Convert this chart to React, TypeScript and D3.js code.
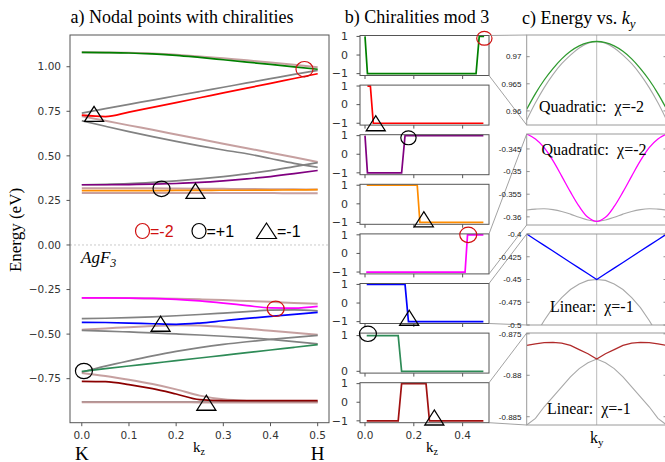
import React from 'react';
import * as d3 from 'd3';

// ---------------- Panel a: bands along K-H ----------------
const kGrid = [0, 0.05, 0.1, 0.15, 0.2, 0.25, 0.3, 0.35, 0.4, 0.45, 0.5];
const yTicksA = [-0.75, -0.5, -0.25, 0, 0.25, 0.5, 0.75, 1.0];
const xTicksA = [0, 0.1, 0.2, 0.3, 0.4, 0.5];

const aGreen = [1.080, 1.079, 1.077, 1.072, 1.064, 1.052, 1.039, 1.026, 1.013, 0.999, 0.986];
const aBrownTop = [1.081, 1.080, 1.078, 1.074, 1.067, 1.058, 1.047, 1.036, 1.024, 1.011, 0.997];
const aGrayUp1 = [0.740, 0.765, 0.789, 0.813, 0.837, 0.861, 0.885, 0.909, 0.933, 0.957, 0.980];
const aRed = [0.728, 0.720, 0.745, 0.772, 0.799, 0.826, 0.853, 0.880, 0.907, 0.934, 0.961];
const aBrownDown1 = [0.722, 0.697, 0.671, 0.646, 0.620, 0.594, 0.568, 0.543, 0.517, 0.492, 0.466];
const aGrayDown1 = [0.697, 0.666, 0.636, 0.608, 0.581, 0.556, 0.533, 0.512, 0.485, 0.458, 0.436];
const aGrayUp2 = [0.338, 0.340, 0.344, 0.351, 0.360, 0.371, 0.384, 0.399, 0.417, 0.440, 0.462];
const aPurple = [0.338, 0.338, 0.339, 0.341, 0.345, 0.351, 0.360, 0.371, 0.384, 0.400, 0.418];
const aOrange = [0.305, 0.305, 0.305, 0.305, 0.306, 0.306, 0.307, 0.307, 0.308, 0.309, 0.310];
const aBrownFlat1 = [0.318, 0.318, 0.318, 0.318, 0.317, 0.316, 0.315, 0.314, 0.313, 0.312, 0.311];
const aBrownFlat2 = [0.292, 0.292, 0.292, 0.292, 0.292, 0.291, 0.291, 0.291, 0.291, 0.290, 0.290];

const aMagenta = [-0.297, -0.297, -0.298, -0.300, -0.305, -0.314, -0.326, -0.340, -0.353, -0.354, -0.344];
const aBrownMag = [-0.297, -0.297, -0.298, -0.300, -0.302, -0.305, -0.309, -0.314, -0.319, -0.325, -0.330];
const aGrayMid1 = [-0.413, -0.411, -0.408, -0.403, -0.397, -0.390, -0.382, -0.374, -0.366, -0.364, -0.370];
const aBlue = [-0.434, -0.435, -0.438, -0.442, -0.445, -0.438, -0.425, -0.412, -0.400, -0.389, -0.378];
const aBrownMid = [-0.475, -0.468, -0.461, -0.455, -0.450, -0.452, -0.460, -0.470, -0.481, -0.492, -0.503];
const aGrayMid2 = [-0.479, -0.483, -0.488, -0.493, -0.499, -0.505, -0.512, -0.520, -0.530, -0.542, -0.555];
const aGrayUp3 = [-0.714, -0.680, -0.650, -0.622, -0.597, -0.576, -0.558, -0.543, -0.530, -0.518, -0.507];
const aSeaGreen = [-0.709, -0.694, -0.679, -0.664, -0.649, -0.634, -0.619, -0.604, -0.589, -0.574, -0.559];
const aBrownDown2 = [-0.718, -0.735, -0.756, -0.780, -0.810, -0.845, -0.866, -0.875, -0.878, -0.879, -0.880];
const aDarkRed = [-0.765, -0.767, -0.783, -0.806, -0.836, -0.868, -0.873, -0.873, -0.873, -0.873, -0.873];
const aGrayFlat = [-0.879, -0.879, -0.879, -0.879, -0.879, -0.879, -0.879, -0.879, -0.879, -0.879, -0.879];
const aBrownFlat3 = [-0.882, -0.882, -0.882, -0.882, -0.882, -0.883, -0.883, -0.883, -0.883, -0.884, -0.884];

// nodal point markers: [k, E, kind]
const aMarkerK = [0.472, 0.026, 0.169, 0.241, 0.411, 0.167, 0.0045, 0.264];
const aMarkerE = [0.986, 0.735, 0.315, 0.303, -0.358, -0.442, -0.707, -0.885];
const aMarkerKind = ['c2', 'tri', 'c1', 'tri', 'c2', 'tri', 'c1', 'tri'];

// ---------------- Panel b: chiralities mod 3 ----------------
const b1K = [0, 0.01, 0.455, 0.468, 0.488];
const b1V = [1, -1, -1, 1, 1];
const b2K = [0.01, 0.022, 0.034, 0.485];
const b2V = [1, 1, -1, -1];
const b3K = [0, 0.01, 0.15, 0.164, 0.485];
const b3V = [1, -1, -1, 1, 1];
const b4K = [0.007, 0.214, 0.225, 0.485];
const b4V = [1, 1, -1, -1];
const b5K = [0.005, 0.41, 0.42, 0.485];
const b5V = [-1, -1, 1, 1];
const b6K = [0.007, 0.164, 0.178, 0.485];
const b6V = [1, 1, -1, -1];
const b7K = [0.007, 0.136, 0.15, 0.485];
const b7V = [1, 1, 0, 0];
const b8K = [0.007, 0.136, 0.15, 0.25, 0.264, 0.485];
const b8V = [-1, -1, 1, 1, -1, -1];
const bXTicks = [0, 0.2, 0.4];
// marker per subplot
const bMarkK = [0.489, 0.044, 0.178, 0.241, 0.423, 0.181, 0.012, 0.284];
const bMarkV = [0.9, -1.0, 0.883, -0.83, 1.0, -0.79, 1.05, -0.82];
const bMarkKind = ['c2', 'tri', 'c1', 'tri', 'c2', 'tri', 'c1', 'tri'];

// ---------------- Panel c: energy vs ky ----------------
const ky = [-1, -0.875, -0.75, -0.625, -0.5, -0.375, -0.25, -0.125, 0, 0.125, 0.25, 0.375, 0.5, 0.625, 0.75, 0.875, 1];
const c1Green = [0.9603, 0.9632, 0.9657, 0.9678, 0.9696, 0.9710, 0.9720, 0.9726, 0.9728, 0.9726, 0.9720, 0.9710, 0.9696, 0.9678, 0.9657, 0.9632, 0.9603];
const c1Gray = [0.9583, 0.9615, 0.9643, 0.9667, 0.9687, 0.9703, 0.9716, 0.9725, 0.9728, 0.9725, 0.9716, 0.9703, 0.9687, 0.9667, 0.9643, 0.9615, 0.9583];
const c2Magenta = [-0.3417, -0.3428, -0.3447, -0.3476, -0.3510, -0.3545, -0.3577, -0.3601, -0.3610, -0.3601, -0.3577, -0.3545, -0.3510, -0.3476, -0.3447, -0.3428, -0.3417];
const c2Gray = [-0.3585, -0.3583, -0.3582, -0.3584, -0.3588, -0.3594, -0.3601, -0.3607, -0.3610, -0.3607, -0.3601, -0.3594, -0.3588, -0.3584, -0.3582, -0.3583, -0.3585];
const c3Blue = [-0.4, -0.40625, -0.4125, -0.41875, -0.425, -0.43125, -0.4375, -0.44375, -0.45, -0.44375, -0.4375, -0.43125, -0.425, -0.41875, -0.4125, -0.40625, -0.4];
const c3Gray = [-0.530, -0.511, -0.495, -0.481, -0.470, -0.461, -0.455, -0.451, -0.450, -0.451, -0.455, -0.461, -0.470, -0.481, -0.495, -0.511, -0.530];
const c4Red = [-0.8764, -0.8762, -0.87607, -0.87603, -0.87612, -0.8764, -0.8769, -0.8774, -0.87805, -0.8774, -0.8769, -0.8764, -0.87612, -0.87603, -0.87607, -0.8762, -0.8764];
const c4Gray = [-0.8860, -0.8852, -0.8838, -0.8826, -0.8814, -0.8802, -0.8792, -0.8785, -0.87805, -0.8785, -0.8792, -0.8802, -0.8814, -0.8826, -0.8838, -0.8852, -0.8860];
const c1Ticks = [0.96, 0.965, 0.97];
const c2Ticks = [-0.345, -0.35, -0.355, -0.36];
const c3Ticks = [-0.4, -0.425, -0.45, -0.475, -0.5];
const c4Ticks = [-0.875, -0.88, -0.885];

const GRAY = '#828282';
const BROWN = '#bc8f8f';
const SANS = 'DejaVu Sans, sans-serif';
const SERIF = 'Liberation Serif, Times New Roman, serif';
const ARIAL = 'Liberation Sans, Arial, sans-serif';
const MINUS = '\u2212';

function Marker({ x, y, kind, scale = 1 }: { x: number; y: number; kind: string; scale?: number }) {
  if (kind === 'tri') {
    const w = 19 * scale, h = 15 * scale;
    return <path d={`M${x},${y - h / 2}L${x - w / 2},${y + h / 2}L${x + w / 2},${y + h / 2}Z`} fill="none" stroke="#000" strokeWidth={1.3} />;
  }
  return <ellipse cx={x} cy={y} rx={8.5 * scale} ry={7.7 * scale} fill="none" stroke={kind === 'c2' ? '#d01010' : '#000'} strokeWidth={1.2} />;
}

export default function App() {
  // ---------- panel a ----------
  const ax = d3.scaleLinear().domain([-0.025, 0.524]).range([70, 329]);
  const ay = d3.scaleLinear().domain([-0.997, 1.178]).range([422.7, 35]);
  const aLine = d3.line<number>().x((_, i) => ax(kGrid[i])).y(d => ay(d)).curve(d3.curveMonotoneX);
  const aBands: { v: number[]; c: string; w: number; o: number }[] = [
    { v: aBrownTop, c: BROWN, w: 2, o: 0.85 },
    { v: aGrayUp1, c: GRAY, w: 1.7, o: 1 },
    { v: aBrownDown1, c: BROWN, w: 2, o: 0.85 },
    { v: aGrayDown1, c: GRAY, w: 1.7, o: 1 },
    { v: aGrayUp2, c: GRAY, w: 1.7, o: 1 },
    { v: aBrownFlat1, c: BROWN, w: 2, o: 0.85 },
    { v: aBrownFlat2, c: BROWN, w: 2, o: 0.85 },
    { v: aBrownMag, c: BROWN, w: 2, o: 0.85 },
    { v: aGrayMid1, c: GRAY, w: 1.7, o: 1 },
    { v: aBrownMid, c: BROWN, w: 2, o: 0.85 },
    { v: aGrayMid2, c: GRAY, w: 1.7, o: 1 },
    { v: aGrayUp3, c: GRAY, w: 1.7, o: 1 },
    { v: aBrownDown2, c: BROWN, w: 2, o: 0.85 },
    { v: aGrayFlat, c: GRAY, w: 1.5, o: 0.8 },
    { v: aBrownFlat3, c: BROWN, w: 2, o: 0.85 },
    { v: aGreen, c: '#008000', w: 1.7, o: 1 },
    { v: aRed, c: '#ff0000', w: 1.7, o: 1 },
    { v: aPurple, c: '#800080', w: 1.7, o: 1 },
    { v: aOrange, c: '#ff8c00', w: 1.7, o: 1 },
    { v: aMagenta, c: '#ff00ff', w: 1.7, o: 1 },
    { v: aBlue, c: '#0000ff', w: 1.7, o: 1 },
    { v: aSeaGreen, c: '#2e8b57', w: 1.7, o: 1 },
    { v: aDarkRed, c: '#8b0000', w: 1.7, o: 1 },
  ];

  // ---------- panel b ----------
  const bx = d3.scaleLinear().domain([-0.0205, 0.508]).range([360, 489]);
  const bH = 40;
  const bTops = d3.range(8).map(i => 35.5 + i * 49.6);
  const bSeries = [
    { k: b1K, v: b1V, c: '#008000' },
    { k: b2K, v: b2V, c: '#ff0000' },
    { k: b3K, v: b3V, c: '#800080' },
    { k: b4K, v: b4V, c: '#ff8c00' },
    { k: b5K, v: b5V, c: '#ff00ff' },
    { k: b6K, v: b6V, c: '#0000ff' },
    { k: b7K, v: b7V, c: '#2e8b57' },
    { k: b8K, v: b8V, c: '#a01010' },
  ];

  // ---------- panel c ----------
  const cx = d3.scaleLinear().domain([-1, 1]).range([526.7, 666.7]);
  const cPanels = [
    { top: 35, bottom: 125, dom: [0.9574, 0.9740], ticks: c1Ticks, col: c1Green, colC: '#2f9a2f', gray: c1Gray, smooth: true },
    { top: 134, bottom: 225, dom: [-0.3618, -0.3417], ticks: c2Ticks, col: c2Magenta, colC: '#ff00ff', gray: c2Gray, smooth: true },
    { top: 234, bottom: 325, dom: [-0.5, -0.4], ticks: c3Ticks, col: c3Blue, colC: '#0000ff', gray: c3Gray, smooth: false },
    { top: 333, bottom: 425, dom: [-0.8860, -0.8749], ticks: c4Ticks, col: c4Red, colC: '#b02a2a', gray: c4Gray, smooth: false },
  ];
  const cTexts = [
    { x: 539, y: 111.5, t: 'Quadratic:  \u03c7=-2' },
    { x: 541.5, y: 155, t: 'Quadratic:  \u03c7=-2' },
    { x: 550, y: 311.5, t: 'Linear:  \u03c7=-1' },
    { x: 547, y: 414, t: 'Linear:  \u03c7=-1' },
  ];
  // which b subplot feeds which c panel
  const bToC = [0, 4, 5, 7];

  return (
    <svg width={665} height={462} style={{ position: 'absolute', left: 0, top: 0, background: '#fff' }}>
      <defs>
        <clipPath id="clipA"><rect x={70} y={35} width={259} height={387.7} /></clipPath>
        {cPanels.map((p, i) => (
          <clipPath key={i} id={`clipC${i}`}><rect x={526.7} y={p.top} width={140} height={p.bottom - p.top} /></clipPath>
        ))}
      </defs>
      <rect width={665} height={462} fill="#fff" />

      {/* ================= Panel a ================= */}
      <text x={182} y={23} textAnchor="middle" fontFamily={SERIF} fontSize={18}>a) Nodal points with chiralities</text>
      <line x1={70} x2={329} y1={ay(0)} y2={ay(0)} stroke="#bbb" strokeWidth={0.8} strokeDasharray="2,2" />
      <g clipPath="url(#clipA)">
        {aBands.map((b, i) => (
          <path key={i} d={aLine(b.v) || ''} fill="none" stroke={b.c} strokeWidth={b.w} strokeOpacity={b.o} />
        ))}
      </g>
      {aMarkerK.map((k, i) => (
        <Marker key={i} x={ax(k)} y={ay(aMarkerE[i])} kind={aMarkerKind[i]} />
      ))}
      <rect x={70} y={35} width={259} height={387.7} fill="none" stroke="#555" strokeWidth={1} />
      {yTicksA.map(t => (
        <g key={t}>
          <line x1={66.5} x2={70} y1={ay(t)} y2={ay(t)} stroke="#555" />
          <text x={61} y={ay(t)} dy="0.35em" textAnchor="end" fontFamily={SANS} fontSize={10.5} fill="#333">
            {(t < 0 ? MINUS : '') + Math.abs(t).toFixed(2)}
          </text>
        </g>
      ))}
      {xTicksA.map(t => (
        <g key={t}>
          <line x1={ax(t)} x2={ax(t)} y1={422.7} y2={426.2} stroke="#555" />
          <text x={ax(t)} y={439} textAnchor="middle" fontFamily={SANS} fontSize={10.5} fill="#333">{t.toFixed(1)}</text>
        </g>
      ))}
      <text transform="translate(21,230) rotate(-90)" textAnchor="middle" fontFamily={SERIF} fontSize={17}>Energy (eV)</text>
      <text x={ax(0)} y={459.5} textAnchor="middle" fontFamily={SERIF} fontSize={19}>K</text>
      <text x={ax(0.5)} y={459.5} textAnchor="middle" fontFamily={SERIF} fontSize={19}>H</text>
      <text x={193} y={452} fontFamily={SERIF} fontSize={15}>k<tspan fontSize={10} dy={3}>z</tspan></text>
      <text x={81} y={263} fontFamily={SERIF} fontSize={17} fontStyle="italic">AgF<tspan fontSize={12} dy={4}>3</tspan></text>
      {/* legend */}
      <ellipse cx={142.5} cy={231} rx={7} ry={7.5} fill="none" stroke="#d01010" strokeWidth={1.2} />
      <text x={150} y={236.5} fontFamily={ARIAL} fontSize={16} fill="#d01010">=-2</text>
      <ellipse cx={199} cy={231} rx={7} ry={7.5} fill="none" stroke="#000" strokeWidth={1.2} />
      <text x={206.5} y={236.5} fontFamily={ARIAL} fontSize={16} fill="#000">=+1</text>
      <path d="M266.5,223L256.5,238.5L276.5,238.5Z" fill="none" stroke="#000" strokeWidth={1.2} />
      <text x={277} y={236.5} fontFamily={ARIAL} fontSize={16} fill="#000">=-1</text>

      {/* ================= Panel b ================= */}
      <text x={417} y={23} textAnchor="middle" fontFamily={SERIF} fontSize={18}>b) Chiralities mod 3</text>
      {bSeries.map((s, i) => {
        const top = bTops[i];
        const dom = i === 6 ? [-0.05, 1.07] : [-1.1, 1.05];
        const ticks = i === 6 ? [1, 0] : [1, 0, -1];
        const by = d3.scaleLinear().domain(dom).range([top + bH, top]);
        const line = d3.line<number>().x((_, j) => bx(s.k[j])).y(d => by(d));
        return (
          <g key={i}>
            <path d={line(s.v) || ''} fill="none" stroke={s.c} strokeWidth={1.7} />
            <rect x={360} y={top} width={129} height={bH} fill="none" stroke="#555" strokeWidth={1} />
            {ticks.map(t => (
              <g key={t}>
                <line x1={356.5} x2={360} y1={by(t)} y2={by(t)} stroke="#555" />
                <text x={348} y={by(t)} dy="0.35em" textAnchor="end" fontFamily={SANS} fontSize={11} fill="#333">
                  {t < 0 ? MINUS + Math.abs(t) : String(t)}
                </text>
              </g>
            ))}
            {bXTicks.map(t => (
              <line key={t} x1={bx(t)} x2={bx(t)} y1={top + bH} y2={top + bH + 3.5} stroke="#555" />
            ))}
            <Marker x={bx(bMarkK[i])} y={by(bMarkV[i])} kind={bMarkKind[i]} scale={i === 0 || i === 2 ? 0.9 : 1} />
          </g>
        );
      })}
      {bXTicks.map(t => (
        <text key={t} x={bx(t)} y={439} textAnchor="middle" fontFamily={SANS} fontSize={10.5} fill="#333">{t.toFixed(1)}</text>
      ))}
      <text x={426} y={452} fontFamily={SERIF} fontSize={15}>k<tspan fontSize={10} dy={3}>z</tspan></text>

      {/* connectors b -> c */}
      {bToC.map((bi, ci) => (
        <g key={ci} stroke="#8a8a8a" strokeWidth={0.8}>
          <line x1={489} y1={bTops[bi]} x2={526.7} y2={cPanels[ci].top} />
          <line x1={489} y1={bTops[bi] + bH} x2={526.7} y2={cPanels[ci].bottom} />
        </g>
      ))}

      {/* ================= Panel c ================= */}
      <text x={522} y={24} fontFamily={SERIF} fontSize={18}>c) Energy vs. <tspan fontStyle="italic">k</tspan><tspan fontStyle="italic" fontSize={13} dy={4}>y</tspan></text>
      {cPanels.map((p, i) => {
        const cy = d3.scaleLinear().domain(p.dom).range([p.bottom, p.top]);
        const line = d3.line<number>().x((_, j) => cx(ky[j])).y(d => cy(d)).curve(p.smooth ? d3.curveCatmullRom : d3.curveLinear);
        return (
          <g key={i}>
            <line x1={cx(0)} x2={cx(0)} y1={p.top} y2={p.bottom} stroke="#a8a8a8" strokeWidth={0.8} />
            <g clipPath={`url(#clipC${i})`}>
              <path d={line(p.gray) || ''} fill="none" stroke="#a8a8a8" strokeWidth={1.1} />
              <path d={line(p.col) || ''} fill="none" stroke={p.colC} strokeWidth={1.3} />
            </g>
            <rect x={526.7} y={p.top} width={140} height={p.bottom - p.top} fill="none" stroke="#9a9a9a" strokeWidth={1} />
            {p.ticks.map(t => (
              <g key={t}>
                <line x1={526.7} x2={529.7} y1={cy(t)} y2={cy(t)} stroke="#777" strokeWidth={0.8} />
                <line x1={663.5} x2={666.7} y1={cy(t)} y2={cy(t)} stroke="#777" strokeWidth={0.8} />
                <text x={521.5} y={cy(t)} dy="0.35em" textAnchor="end" fontFamily={ARIAL} fontSize={8} fill="#222">{String(t)}</text>
              </g>
            ))}
            <text x={cTexts[i].x} y={cTexts[i].y} fontFamily={SERIF} fontSize={16} style={{ whiteSpace: 'pre' }}>{cTexts[i].t}</text>
          </g>
        );
      })}
      <text x={590} y={443} fontFamily={SERIF} fontSize={16}>k<tspan fontSize={11} dy={3}>y</tspan></text>
    </svg>
  );
}
